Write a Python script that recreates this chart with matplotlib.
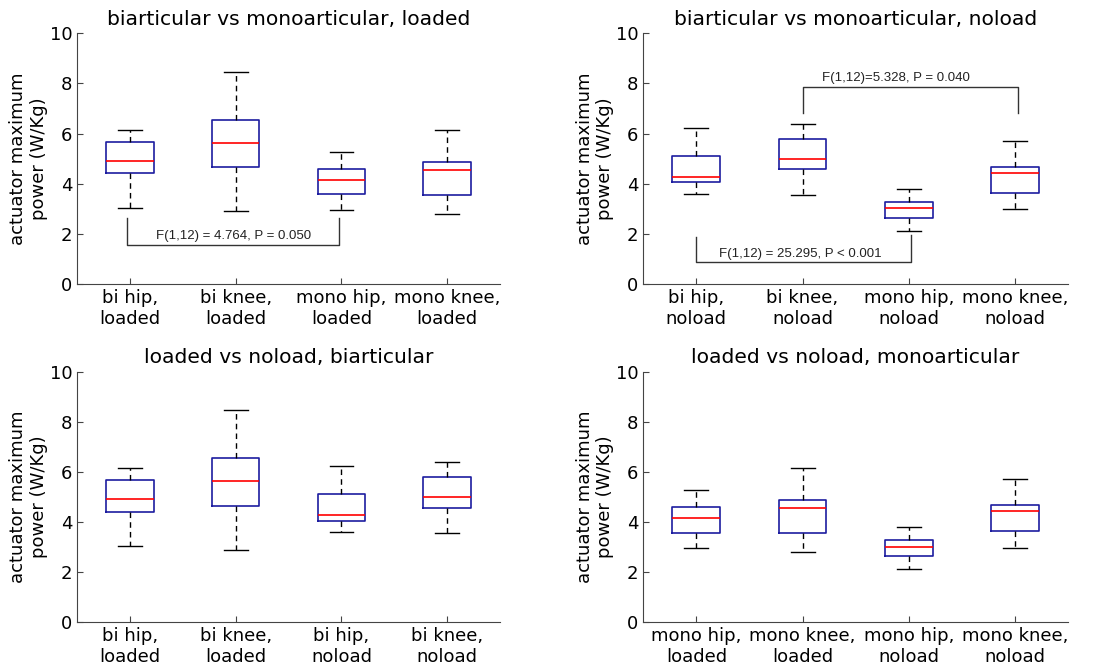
import matplotlib
matplotlib.use("Agg")
import matplotlib.pyplot as plt

# five-number summaries: low whisker, q1, median, q3, high whisker
bi_hip_loaded = [3.05, 4.41, 4.91, 5.66, 6.14]
bi_knee_loaded = [2.90, 4.65, 5.64, 6.54, 8.46]
mono_hip_loaded = [2.97, 3.58, 4.16, 4.59, 5.28]
mono_knee_loaded = [2.81, 3.55, 4.56, 4.88, 6.14]
bi_hip_noload = [3.59, 4.06, 4.28, 5.11, 6.24]
bi_knee_noload = [3.55, 4.57, 4.99, 5.78, 6.40]
mono_hip_noload = [2.13, 2.63, 3.02, 3.27, 3.79]
mono_knee_noload = [2.98, 3.63, 4.44, 4.67, 5.70]

panels = [
    ("biarticular vs monoarticular, loaded",
     [bi_hip_loaded, bi_knee_loaded, mono_hip_loaded, mono_knee_loaded],
     ["bi hip,\nloaded", "bi knee,\nloaded", "mono hip,\nloaded", "mono knee,\nloaded"]),
    ("biarticular vs monoarticular, noload",
     [bi_hip_noload, bi_knee_noload, mono_hip_noload, mono_knee_noload],
     ["bi hip,\nnoload", "bi knee,\nnoload", "mono hip,\nnoload", "mono knee,\nnoload"]),
    ("loaded vs noload, biarticular",
     [bi_hip_loaded, bi_knee_loaded, bi_hip_noload, bi_knee_noload],
     ["bi hip,\nloaded", "bi knee,\nloaded", "bi hip,\nnoload", "bi knee,\nnoload"]),
    ("loaded vs noload, monoarticular",
     [mono_hip_loaded, mono_knee_loaded, mono_hip_noload, mono_knee_noload],
     ["mono hip,\nloaded", "mono knee,\nloaded", "mono hip,\nnoload", "mono knee,\nnoload"]),
]

# significance brackets: panel index, x1, x2, y of bar, y1 top, y2 top, label, text x
brackets = [
    (0, 0.97, 2.98, 1.56, 2.62, 2.62, "F(1,12) = 4.764, P = 0.050", 1.98),
    (1, 1.0, 3.02, 0.86, 1.89, 1.95, "F(1,12) = 25.295, P < 0.001", 1.98),
    (1, 2.0, 4.03, 7.87, 6.81, 6.84, "F(1,12)=5.328, P = 0.040", 2.88),
]

fig = plt.figure(figsize=(11.07, 6.69), dpi=100)
rects = [
    [0.0696, 0.5755, 0.3821, 0.3747],
    [0.5811, 0.5755, 0.3837, 0.3747],
    [0.0696, 0.0698, 0.3821, 0.3747],
    [0.5811, 0.0698, 0.3837, 0.3747],
]
axes = []
for rect, (title, data, labels) in zip(rects, panels):
    ax = fig.add_axes(rect)
    stats = []
    for lab, s in zip(labels, data):
        stats.append({"label": lab, "whislo": s[0], "q1": s[1], "med": s[2],
                      "q3": s[3], "whishi": s[4], "fliers": []})
    ax.bxp(stats, positions=[1, 2, 3, 4], widths=0.45, showfliers=False,
           boxprops=dict(color="#1c1ca0", linewidth=1.2),
           medianprops=dict(color="#ff0000", linewidth=1.2),
           whiskerprops=dict(color="black", linestyle=(0, (4, 3)), linewidth=1.0),
           capprops=dict(color="black", linewidth=1.0))
    ax.set_xlim(0.5, 4.5)
    ax.set_ylim(0, 10)
    ax.set_yticks([0, 2, 4, 6, 8, 10])
    ax.set_title(title, fontsize=14.6, pad=6)
    ax.set_ylabel("actuator maximum\npower (W/Kg)", fontsize=13, labelpad=1)
    ax.tick_params(direction="in", labelsize=13, length=4, color="#444444")
    for side in ["top", "right"]:
        ax.spines[side].set_visible(False)
    for side in ["left", "bottom"]:
        ax.spines[side].set_color("#444444")
    axes.append(ax)

for idx, x1, x2, ybar, y1, y2, txt, tx in brackets:
    ax = axes[idx]
    ax.plot([x1, x1, x2, x2], [y1, ybar, ybar, y2], color="#333333", linewidth=1.0)
    ax.text(tx, ybar + 0.1, txt, ha="center", va="bottom", fontsize=9.5,
            family="Liberation Sans", color="#222222")

fig.savefig("out.png", dpi=100)
